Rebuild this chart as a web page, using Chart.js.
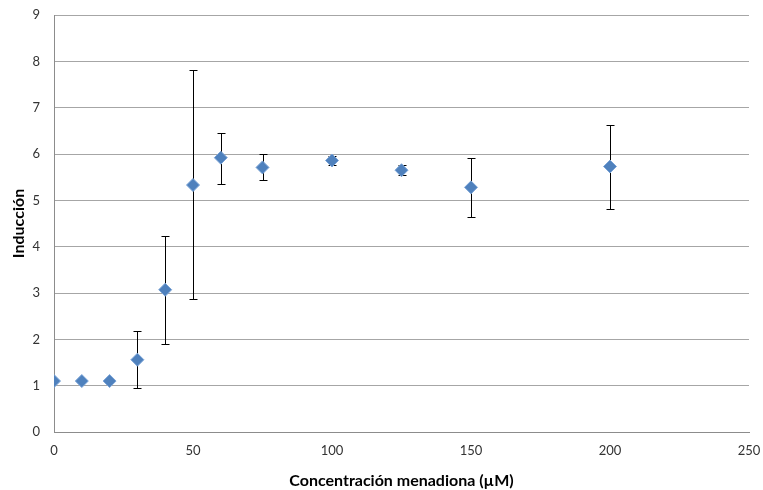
<!DOCTYPE html>
<html>
<head>
<meta charset="utf-8">
<script src="https://cdn.jsdelivr.net/npm/chart.js@4/dist/chart.umd.min.js"></script>
<style>
  html, body { margin: 0; padding: 0; background: #fff; }
  #chart { display: block; }
</style>
</head>
<body>
<canvas id="chart" width="763" height="490"></canvas>
<script>
// Inducción vs concentración de menadiona
var concentracion = [0, 10, 20, 30, 40, 50, 60, 75, 100, 125, 150, 200];
var induccion     = [1.10, 1.10, 1.10, 1.56, 3.07, 5.33, 5.92, 5.71, 5.86, 5.65, 5.28, 5.73];
var errorAlto     = [1.10, 1.10, 1.10, 2.18, 4.23, 7.82, 6.46, 6.00, 5.95, 5.76, 5.92, 6.63];
var errorBajo     = [1.10, 1.10, 1.10, 0.94, 1.91, 2.86, 5.36, 5.44, 5.77, 5.54, 4.63, 4.82];

var puntos = concentracion.map(function (c, i) {
    return { x: c, y: induccion[i], lo: errorBajo[i], hi: errorAlto[i] };
});

// Error bars with caps, drawn under the markers
var errorBars = {
    id: 'errorBars',
    beforeDatasetsDraw: function (chart) {
        var ctx = chart.ctx;
        var xs = chart.scales.x, ys = chart.scales.y;
        var cap = 4;
        ctx.save();
        ctx.strokeStyle = '#000';
        ctx.lineWidth = 1;
        chart.data.datasets[0].data.forEach(function (p) {
            if (p.hi - p.lo < 0.001) return;
            var px = Math.round(xs.getPixelForValue(p.x)) + 0.5;
            var top = Math.round(ys.getPixelForValue(p.hi)) + 0.5;
            var bot = Math.round(ys.getPixelForValue(p.lo)) + 0.5;
            ctx.beginPath();
            ctx.moveTo(px, top); ctx.lineTo(px, bot);
            ctx.moveTo(px - cap, top); ctx.lineTo(px + cap, top);
            ctx.moveTo(px - cap, bot); ctx.lineTo(px + cap, bot);
            ctx.stroke();
        });
        ctx.restore();
    }
};

var fuente = "Lato, 'Open Sans', sans-serif";

new Chart(document.getElementById('chart'), {
    type: 'scatter',
    data: {
        datasets: [{
            data: puntos,
            pointStyle: 'rectRot',
            pointRadius: 6.5,
            pointHoverRadius: 6.5,
            backgroundColor: '#4F81BD',
            borderColor: '#7AA3D6',
            borderWidth: 1
        }]
    },
    options: {
        responsive: false,
        animation: false,
        layout: { padding: { top: 15, right: 14, bottom: 0, left: 0 } },
        plugins: {
            legend: { display: false },
            tooltip: { enabled: false }
        },
        scales: {
            x: {
                type: 'linear',
                min: 0,
                max: 250,
                ticks: {
                    stepSize: 50,
                    color: '#333',
                    font: { family: fuente, size: 13 },
                    padding: 11
                },
                grid: { display: false, drawTicks: false },
                border: { color: '#8c8c8c', width: 1 },
                title: {
                    display: true,
                    text: 'Concentración menadiona (µM)',
                    color: '#000',
                    font: { family: fuente, size: 16, weight: 'bold' },
                    padding: { top: 4, bottom: 0 }
                },
                afterFit: function (scale) {
                    scale.height = 58;
                    scale.paddingLeft = 0;
                    scale.paddingRight = 0;
                }
            },
            y: {
                min: 0,
                max: 9,
                ticks: {
                    stepSize: 1,
                    color: '#333',
                    font: { family: fuente, size: 13 },
                    padding: 14
                },
                grid: { color: '#a6a6a6', lineWidth: 1, drawTicks: false },
                border: { color: '#8c8c8c', width: 1 },
                title: {
                    display: true,
                    text: 'Inducción',
                    color: '#000',
                    font: { family: fuente, size: 16, weight: 'bold' },
                    padding: { top: 9, bottom: 0 }
                },
                afterFit: function (scale) {
                    scale.width = 54;
                    scale.paddingTop = 0;
                    scale.paddingBottom = 0;
                }
            }
        }
    },
    plugins: [errorBars]
});
</script>
</body>
</html>
